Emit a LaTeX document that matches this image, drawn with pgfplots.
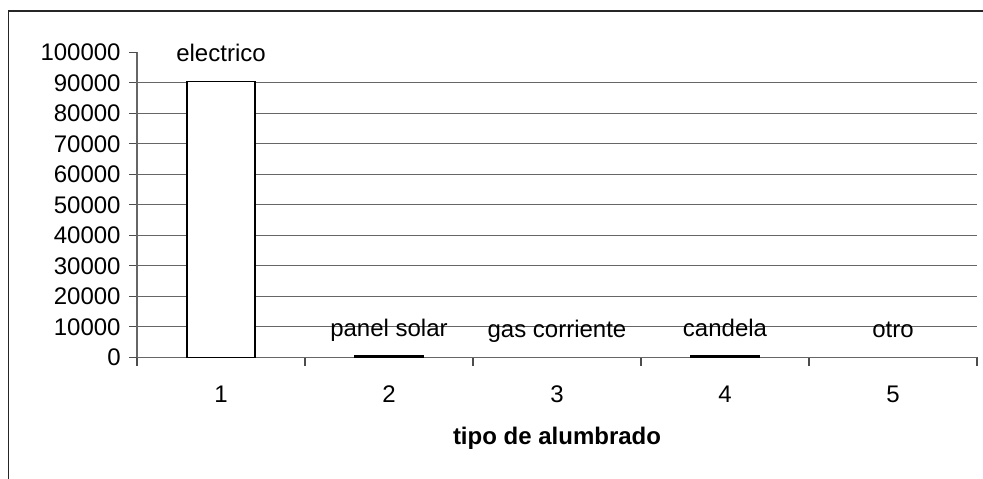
\documentclass[border=0pt]{standalone}
\usepackage{pgfplots}
\pgfplotsset{compat=1.18}
\usepackage{fontspec}
\setmainfont{Liberation Sans}
\begin{document}
\fontsize{12pt}{14pt}\selectfont
\begin{tikzpicture}
\useasboundingbox (0,0) rectangle (491.5pt,239pt);
% outer chart frame
\draw[line width=0.85pt, black!85] (4.25pt,-10pt) -- (4.25pt,233.5pt) -- (510pt,233.5pt);
\begin{axis}[
  at={(68.5pt,60.35pt)}, anchor=south west,
  scale only axis, width=420pt, height=152.5pt,
  xmin=0.5, xmax=5.5, ymin=0, ymax=100000,
  axis x line*=bottom, axis y line*=left,
  axis line style={black!60, line width=0.6pt},
  /pgf/number format/assume math mode=true,
  scaled y ticks=false,
  yticklabel style={/pgf/number format/fixed, /pgf/number format/1000 sep={}},
  ytick={0,10000,...,90000},
  extra y ticks={100000},
  extra y tick style={grid=none},
  extra y tick labels={100000},
  ymajorgrids,
  major grid style={black!60, line width=0.6pt},
  xtick={1,2,3,4,5},
  major x tick style={draw=none},
  minor xtick={0.5,1.5,...,5.5},
  tick align=outside,
  major tick length=4pt, minor tick length=4.2pt,
  tick style={black!70, line width=0.6pt},
  xticklabel style={yshift=-6pt},
  xlabel={\textbf{tipo de alumbrado}},
  xlabel style={yshift=-4pt},
  ybar, bar width=34pt, bar shift=0pt,
  point meta=explicit symbolic,
  nodes near coords,
  every node near coord/.append style={anchor=base, yshift=9.7pt, font=\fontsize{12pt}{14pt}\selectfont},
]
\addplot[draw=black, line width=0.75pt, fill=white] coordinates {
  (1,90500) [electrico]
  (2,400) [panel solar]
  (4,400) [candela]
};
\addplot[draw=none, fill=none] coordinates {
  (3,0) [gas corriente]
  (5,0) [otro]
};
\end{axis}
\end{tikzpicture}
\end{document}
